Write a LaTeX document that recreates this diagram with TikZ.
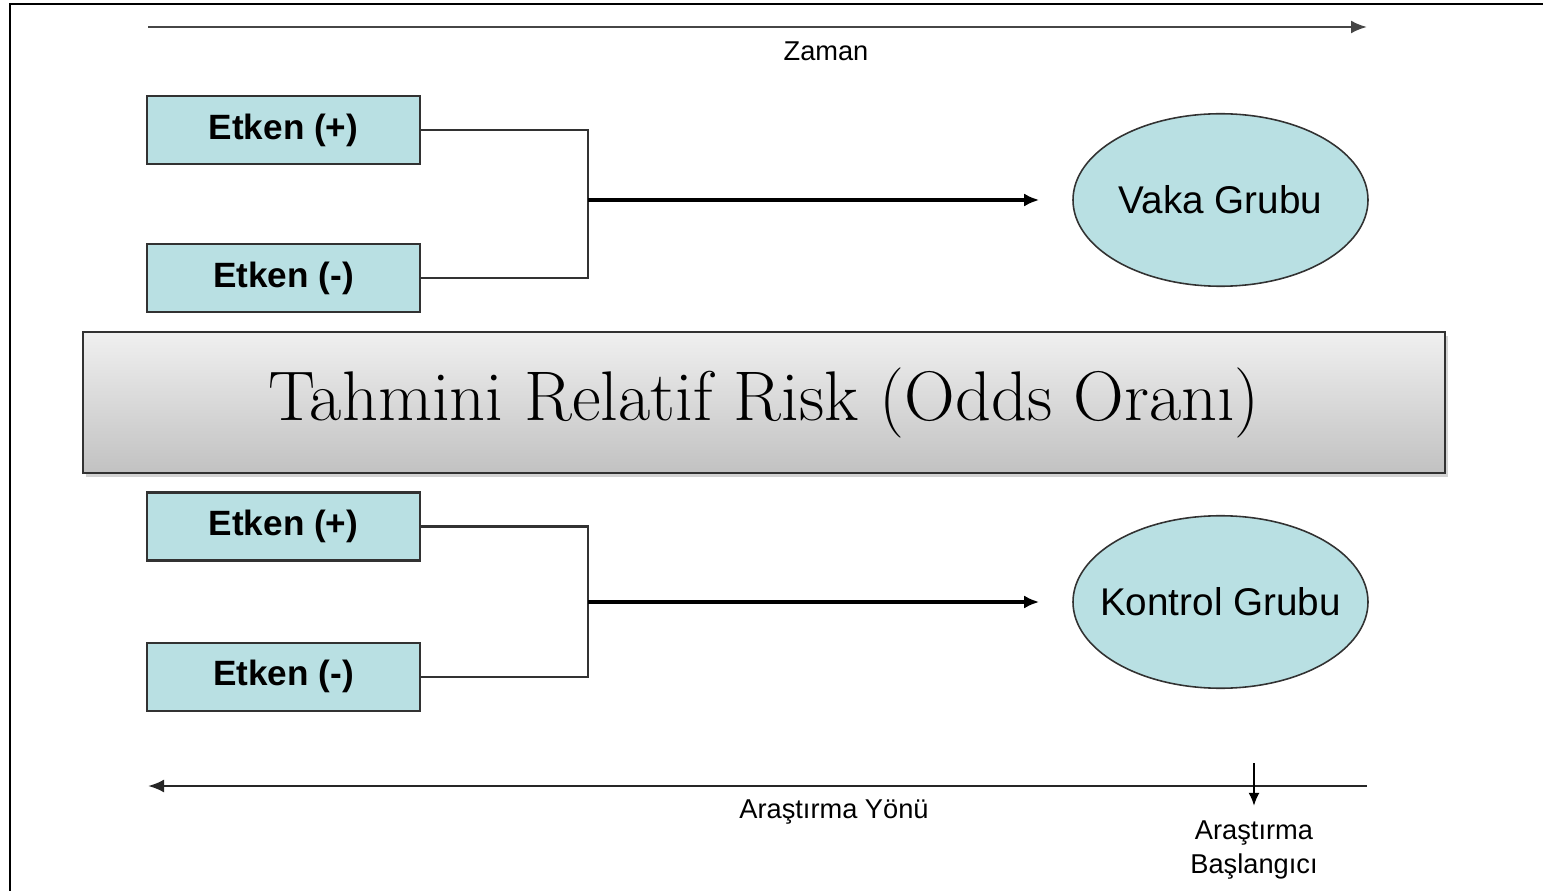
\documentclass[tikz,border=0pt]{standalone}
\usepackage{fontspec}
\setsansfont{Liberation Sans}
\usepackage{xcolor}
\usepackage{tikz}
\usetikzlibrary{shapes.geometric, arrows.meta, positioning, shadows, calc}

\definecolor{boxblue}{RGB}{185,224,227}
\definecolor{edgegray}{RGB}{50,50,50}

\begin{document}
\begin{tikzpicture}[
    node distance=1.56cm,
    box/.style={draw=edgegray, line width=1.3pt, rectangle, minimum width=5.46cm, minimum height=1.36cm, fill=boxblue, font=\sffamily\bfseries\fontsize{20}{24}\selectfont},
    group/.style={draw=edgegray, line width=0.9pt, ellipse, minimum width=5.9cm, minimum height=3.45cm, inner xsep=-1cm, inner ysep=0pt, fill=boxblue, font=\sffamily\fontsize{22}{26}\selectfont},
    banner/.style={draw=edgegray, line width=1.1pt, rectangle, minimum width=27.24cm, minimum height=2.82cm, top color=gray!12, bottom color=gray!48, drop shadow={shadow xshift=0.06cm, shadow yshift=-0.08cm, opacity=0.35}, font=\rmfamily\fontsize{40}{46}\selectfont},
    small/.style={font=\sffamily\fontsize{15.5}{19}\selectfont, align=center},
    link/.style={draw=edgegray, line width=1.2pt},
    arrow/.style={line width=2.2pt, -{Latex[length=0.3cm, width=0.26cm]}, shorten >=0.66cm},
    timeline/.style={line width=1.4pt, -{Latex[length=0.32cm, width=0.26cm]}}
]
\useasboundingbox (0,0) rectangle (30.86,-17.82);
\draw [line width=1.3pt] (0.2,-17.82) -- (0.2,-0.08) -- (30.86,-0.08);

% time axis
\coordinate (t0) at (2.96,-0.54);
\coordinate (t1) at (27.34,-0.54);
\draw [timeline, draw=gray!55!black, fill=black] (t0) -- (t1);
\node (zaman) [small] at (16.52,-1.02) {Zaman};

% cases
\node (e1) [box] at (5.67,-2.6) {Etken (+)};
\node (e2) [box, below=of e1] {Etken (-)};
\node (vaka) [group] at (24.41,-4.0) {Vaka Grubu};
\coordinate (j1) at (11.76,-4.0);

% estimate
\node (odds) [banner] at (15.28,-8.05) {Tahmini Relatif Risk (Odds Oranı)};

% controls
\node (e3) [box] at (5.67,-10.53) {Etken (+)};
\node (e4) [box, below=1.6cm of e3] {Etken (-)};
\node (kontrol) [group] at (24.41,-12.04) {Kontrol Grubu};
\coordinate (j2) at (11.76,-12.04);

\draw [link] (e1) -| (j1) |- (e2);
\draw [arrow] (j1) -- (vaka);
\draw [link] (e3) -| (j2) |- (e4);
\draw [arrow] (j2) -- (kontrol);

% direction of study
\coordinate (d0) at (27.34,-15.72);
\coordinate (d1) at (2.96,-15.72);
\draw [timeline, draw=black!85] (d0) -- (d1);
\node (yon) [small] at (16.68,-16.24) {Araştırma Yönü};
\coordinate (s0) at (25.08,-15.26);
\node (start) [small] at (25.08,-17.0) {Araştırma\\Başlangıcı};
\draw [line width=1pt, -{Latex[length=0.26cm, width=0.22cm]}, shorten >=0.18cm] (s0) -- (start);
\end{tikzpicture}
\end{document}
